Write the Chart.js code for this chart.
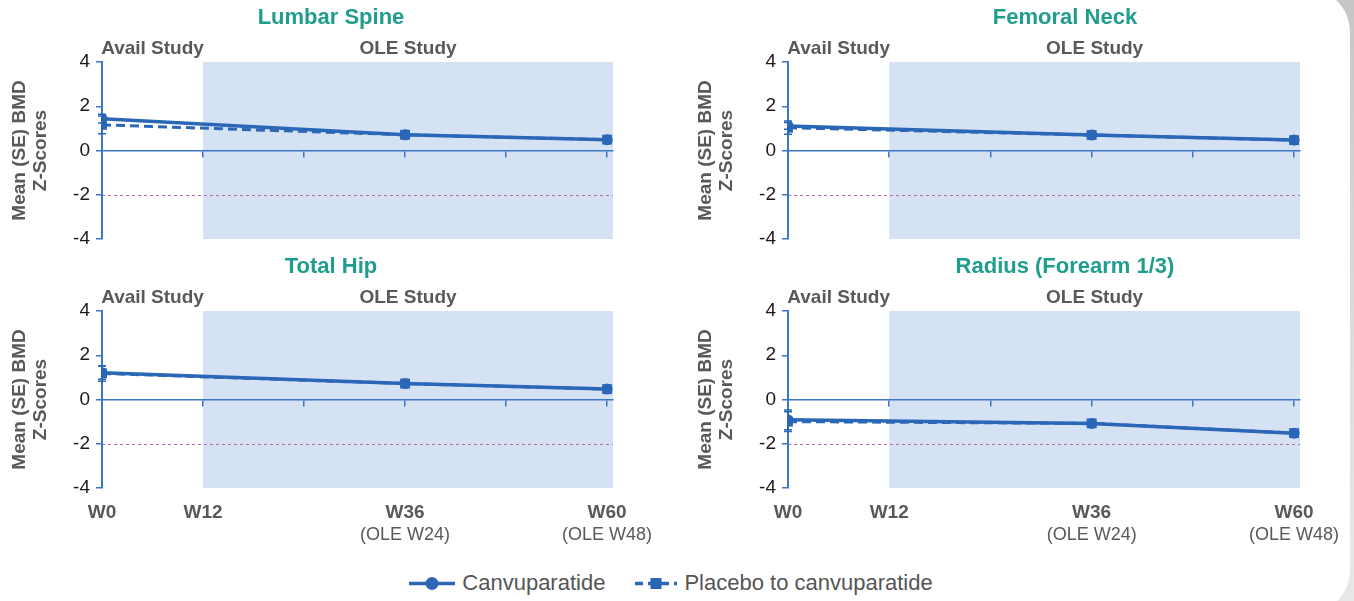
<!DOCTYPE html>
<html><head><meta charset="utf-8">
<script src="https://cdn.jsdelivr.net/npm/chart.js@4.4.1/dist/chart.umd.min.js"></script>
<style>
html,body{margin:0;padding:0;width:1354px;height:601px;overflow:hidden;background:linear-gradient(180deg,#c6c6c6,#dedede 60%,#e8e8e8);font-family:"Liberation Sans",Arial,sans-serif;}
#panel{position:absolute;left:0;top:-12px;width:1350px;height:626px;background:#fff;border-radius:0 44px 44px 0;}
canvas{position:absolute;}
#legend{position:absolute;left:-6px;top:569px;width:1354px;height:28px;display:flex;justify-content:center;align-items:center;font-size:22px;color:#555;}
#legend .item{display:flex;align-items:center;margin:0 15px;}
#legend svg{margin-right:7px;}
</style></head>
<body>
<div id="panel"></div>
<canvas id="c0" width="680" height="250" style="left:0;top:0"></canvas>
<canvas id="c1" width="674" height="250" style="left:680px;top:0"></canvas>
<canvas id="c2" width="680" height="300" style="left:0;top:250px"></canvas>
<canvas id="c3" width="674" height="300" style="left:680px;top:250px"></canvas>
<div id="legend"></div>
<script>
// ---------- data ----------
const weeks = [0, 36, 60];
const tickWeeks = [0, 12, 24, 36, 48, 60];
const tickLabels = ['W0', 'W12', '', 'W36', '', 'W60'];
const tickSubLabels = ['', '', '', '(OLE W24)', '', '(OLE W48)'];
const yTicks = [-4, -2, 0, 2, 4];
const referenceLine = -2;
const oleStartWeek = 12;
const regionLabels = ['Avail Study', 'OLE Study'];
const seriesNames = ['Canvuparatide', 'Placebo to canvuparatide'];
const panelTitles = ['Lumbar Spine', 'Femoral Neck', 'Total Hip', 'Radius (Forearm 1/3)'];
const yTitle = ['Mean (SE) BMD', 'Z-Scores'];

const lumbarCanv = [1.44, 0.71, 0.49];
const lumbarCanvSE = [0.2, 0.12, 0.12];
const lumbarPlac = [1.16, 0.71, 0.49];
const lumbarPlacSE = [0.4, 0.12, 0.12];

const femoralCanv = [1.11, 0.70, 0.47];
const femoralCanvSE = [0.15, 0.1, 0.1];
const femoralPlac = [1.03, 0.70, 0.47];
const femoralPlacSE = [0.3, 0.1, 0.1];

const hipCanv = [1.21, 0.72, 0.47];
const hipCanvSE = [0.3, 0.12, 0.12];
const hipPlac = [1.18, 0.72, 0.47];
const hipPlacSE = [0.35, 0.12, 0.12];

const radiusCanv = [-0.92, -1.08, -1.52];
const radiusCanvSE = [0.45, 0.1, 0.1];
const radiusPlac = [-1.0, -1.08, -1.52];
const radiusPlacSE = [0.45, 0.1, 0.1];

// ---------- style ----------
const LINE = '#2b67b7';
const AXIS = '#3a77c6';
const SHADE = '#d5e2f4';
const REF = '#c562b6';
const TEAL = '#1f9d8d';
const GRAYTXT = '#595959';
const FONT = '"Liberation Sans", Arial, sans-serif';
const X_MAX = 60.7;

const panels = [
  {id: 'c0', title: panelTitles[0], canv: lumbarCanv, canvSE: lumbarCanvSE, plac: lumbarPlac, placSE: lumbarPlacSE, bottom: false, axisW: 102, padR: 67, titleX: 331, yTitlePad: 9},
  {id: 'c1', title: panelTitles[1], canv: femoralCanv, canvSE: femoralCanvSE, plac: femoralPlac, placSE: femoralPlacSE, bottom: false, axisW: 108, padR: 54, titleX: 385, yTitlePad: 15.5},
  {id: 'c2', title: panelTitles[2], canv: hipCanv, canvSE: hipCanvSE, plac: hipPlac, placSE: hipPlacSE, bottom: true, axisW: 102, padR: 67, titleX: 331, yTitlePad: 9},
  {id: 'c3', title: panelTitles[3], canv: radiusCanv, canvSE: radiusCanvSE, plac: radiusPlac, placSE: radiusPlacSE, bottom: true, axisW: 108, padR: 54, titleX: 385, yTitlePad: 15.5}
];

const decor = {
  id: 'decor',
  beforeDraw(chart) {
    const {ctx, chartArea: a, scales: {x, y}} = chart;
    ctx.save();
    ctx.fillStyle = SHADE;
    const sx = x.getPixelForValue(oleStartWeek);
    ctx.fillRect(sx, a.top, a.right - sx, a.bottom - a.top);
    ctx.strokeStyle = REF;
    ctx.lineWidth = 1;
    ctx.setLineDash([3, 3]);
    const ry = Math.round(y.getPixelForValue(referenceLine)) + 0.5;
    ctx.beginPath(); ctx.moveTo(a.left, ry); ctx.lineTo(a.right, ry); ctx.stroke();
    ctx.restore();
  },
  afterDatasetsDraw(chart) {
    const {ctx, scales: {y}} = chart;
    const p = chart.options.plugins.decor;
    ctx.save();
    ctx.strokeStyle = LINE;
    ctx.lineWidth = 1.5;
    [p.canvSE, p.placSE].forEach((se, di) => {
      const meta = chart.getDatasetMeta(di);
      const vals = chart.data.datasets[di].data;
      meta.data.forEach((pt, j) => {
        const v = vals[j].y;
        const t = y.getPixelForValue(v + se[j]);
        const b = y.getPixelForValue(v - se[j]);
        ctx.beginPath();
        ctx.moveTo(pt.x, t); ctx.lineTo(pt.x, b);
        ctx.moveTo(pt.x - 4, t); ctx.lineTo(pt.x + 4, t);
        ctx.moveTo(pt.x - 4, b); ctx.lineTo(pt.x + 4, b);
        ctx.stroke();
      });
    });
    ctx.restore();
  },
  afterDraw(chart) {
    const {ctx, chartArea: a, scales: {x}} = chart;
    const p = chart.options.plugins.decor;
    ctx.save();
    ctx.textAlign = 'center';
    ctx.textBaseline = 'middle';
    ctx.fillStyle = TEAL;
    ctx.font = 'bold 22px ' + FONT;
    ctx.fillText(p.title, p.titleX, a.top - 44);
    ctx.fillStyle = GRAYTXT;
    ctx.font = 'bold 19px ' + FONT;
    ctx.fillText(regionLabels[0], x.getPixelForValue(oleStartWeek / 2), a.top - 13);
    ctx.fillText(regionLabels[1], (x.getPixelForValue(oleStartWeek) + a.right) / 2, a.top - 13);
    ctx.restore();
  }
};

function mk(p) {
  const setTicks = (vals) => (s) => { s.ticks = vals.map(v => ({value: v})); };
  const cfg = {
    type: 'line',
    data: {
      datasets: [
        {label: seriesNames[0], data: weeks.map((w, i) => ({x: w, y: p.canv[i]})), borderColor: LINE, backgroundColor: LINE,
         borderWidth: 3.5, pointStyle: 'circle', pointRadius: 5.5, pointBorderWidth: 0, tension: 0},
        {label: seriesNames[1], data: weeks.map((w, i) => ({x: w, y: p.plac[i]})), borderColor: LINE, backgroundColor: LINE,
         borderWidth: 3, borderDash: [9, 5], pointStyle: 'rect', pointRadius: 7, pointBorderWidth: 0, tension: 0}
      ]
    },
    options: {
      responsive: false,
      animation: false,
      layout: {padding: {top: p.bottom ? 61 : 62, bottom: p.bottom ? 0 : 11, left: 0, right: p.padR}},
      plugins: {legend: {display: false}, tooltip: {enabled: false}, title: {display: false},
        decor: {title: p.title, titleX: p.titleX, canvSE: p.canvSE, placSE: p.placSE}},
      scales: {
        x: {type: 'linear', position: 'bottom', min: 0, max: X_MAX, display: p.bottom, weight: 0,
          afterBuildTicks: setTicks(tickWeeks),
          afterFit: (s) => { s.height = p.bottom ? 36 : 0; },
          grid: {display: false, drawTicks: false}, border: {display: false},
          ticks: {autoSkip: false, maxRotation: 0, padding: 13, color: GRAYTXT, font: {family: FONT, size: 19, weight: 'bold'},
            callback: (v, i) => tickLabels[i]}},
        xSub: {type: 'linear', position: 'bottom', min: 0, max: X_MAX, display: p.bottom, weight: 1,
          afterBuildTicks: setTicks(tickWeeks),
          afterFit: (s) => { s.height = p.bottom ? 26 : 0; },
          grid: {display: false, drawTicks: false}, border: {display: false},
          ticks: {autoSkip: false, maxRotation: 0, padding: 0, color: GRAYTXT, font: {family: FONT, size: 18},
            callback: (v, i) => tickSubLabels[i]}},
        xZero: {type: 'linear', position: {y: 0}, min: 0, max: X_MAX,
          afterBuildTicks: setTicks(tickWeeks),
          grid: {display: true, drawOnChartArea: false, drawTicks: true, tickLength: 6, color: AXIS, lineWidth: 1.5},
          border: {display: true, color: AXIS, width: 1.5},
          ticks: {display: false}},
        y: {type: 'linear', position: 'left', min: -4, max: 4,
          afterBuildTicks: setTicks(yTicks),
          afterFit: (s) => { s.width = p.axisW; s.paddingTop = 0; s.paddingBottom = 0; },
          grid: {display: true, drawOnChartArea: false, drawTicks: true, tickLength: 6, color: AXIS, lineWidth: 1.5},
          border: {display: true, color: AXIS, width: 2},
          ticks: {padding: 6, color: '#1a1a1a', font: {family: FONT, size: 19}},
          title: {display: true, text: yTitle, color: GRAYTXT, font: {family: FONT, size: 19, weight: 'bold', lineHeight: 1.1},
            padding: {top: p.yTitlePad, bottom: 0}}}
      }
    },
    plugins: [decor]
  };
  return new Chart(document.getElementById(p.id), cfg);
}
panels.forEach(mk);

// legend
const lg = document.getElementById('legend');
const sym = (dashed, square) => {
  const w = square ? 42 : 46;
  const dash = dashed ? 'stroke-dasharray="8 5"' : '';
  const mark = square ? `<rect x="${w / 2 - 5.5}" y="3" width="11" height="11" fill="${LINE}"/>` : `<circle cx="${w / 2}" cy="8.5" r="6.5" fill="${LINE}"/>`;
  return `<svg width="${w}" height="17" viewBox="0 0 ${w} 17"><line x1="0" y1="8.5" x2="${w}" y2="8.5" stroke="${LINE}" stroke-width="3.5" ${dash}/>${mark}</svg>`;
};
lg.innerHTML = `<div class="item">${sym(false, false)}<span>${seriesNames[0]}</span></div>` +
  `<div class="item">${sym(true, true)}<span>${seriesNames[1]}</span></div>`;
</script>
</body></html>
